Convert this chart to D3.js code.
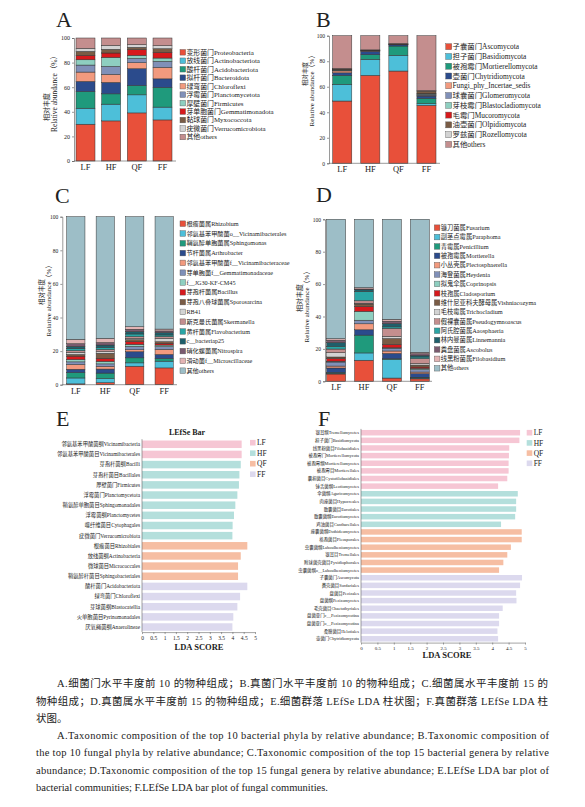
<!DOCTYPE html>
<html>
<head>
<meta charset="UTF-8">
<title>Microbial community composition</title>
<script src="https://d3js.org/d3.v7.min.js"></script>
<style>
  body { margin: 0; background: #fff; }
  text { font-family: "Liberation Serif", "Noto Sans CJK SC", serif; fill: #222; }
</style>
</head>
<body>
<svg width="585" height="807"></svg>
<script>
const groups = ["LF", "HF", "QF", "FF"];
const pctTicks = [0, 20, 40, 60, 80, 100];
const ldaTicks = [0, 0.5, 1, 1.5, 2, 2.5, 3, 3.5, 4, 4.5, 5];

// A. bacterial phyla (%), one row per group LF, HF, QF, FF
const bacPhyla = ["变形菌门Proteobacteria", "放线菌门Actinobacteriota", "酸杆菌门Acidobacteriota",
  "拟杆菌门Bacteroidota", "绿弯菌门Chloroflexi", "浮霉菌门Planctomycetota", "厚壁菌门Firmicutes",
  "芽单胞菌门Gemmatimonadota", "黏球菌门Myxococcota", "疣微菌门Verrucomicrobiota", "其他others"];
const bacPhylaValues = [
  [29.9, 13.0, 13.6, 8.2, 7.6, 5.7, 4.3, 3.6, 3.2, 2.5, 8.4],
  [32.6, 13.6, 8.4, 9.3, 6.5, 6.5, 7.3, 3.6, 3.0, 3.2, 6.0],
  [39.1, 14.7, 7.6, 13.6, 4.9, 3.5, 2.5, 4.6, 1.9, 2.2, 5.4],
  [33.4, 10.4, 16.0, 7.0, 9.3, 4.9, 2.7, 4.6, 3.0, 2.5, 6.2]
];

// B. fungal phyla (%)
const funPhyla = ["子囊菌门Ascomycota", "担子菌门Basidiomycota", "被孢霉门Mortierellomycota",
  "壶菌门Chytridiomycota", "Fungi_phy_Incertae_sedis", "球囊菌门Glomeromycota", "芽枝霉门Blastocladiomycota",
  "毛霉门Mucoromycota", "油壶菌门Olpidiomycota", "罗兹菌门Rozellomycota", "其他others"];
const funPhylaValues = [
  [48.8, 13.1, 7.0, 2.0, 1.5, 0.5, 0.3, 0.2, 0.5, 0.3, 25.8],
  [68.9, 12.6, 3.6, 2.7, 0.3, 0.2, 0.1, 0.1, 0.3, 0.1, 11.1],
  [72.3, 12.3, 7.3, 1.0, 0.2, 0.1, 0.1, 0.1, 0.3, 0.1, 6.2],
  [45.4, 1.3, 4.2, 1.8, 0.5, 0.8, 0.4, 0.2, 2.0, 0.3, 43.1]
];

// C. bacterial genera (%)
const bacGenera = ["根瘤菌属Rhizobium", "邻氨基苯甲酸菌o__Vicinamibacterales", "鞘氨醇单胞菌属Sphingomonas",
  "节杆菌属Arthrobacter", "邻氨基苯甲酸菌f__Vicinamibacteraceae", "芽单胞菌f__Gemmatimonadaceae",
  "f__JG30-KF-CM45", "芽孢杆菌属Bacillus", "芽孢八叠球菌属Sporosarcina", "RB41", "斯克曼氏菌属Skermanella",
  "黄杆菌属Flavobacterium", "c__bacteriap25", "硝化螺菌属Nitrospira", "滑动菌f__Microscillaceae", "其他others"];
const bacGeneraValues = [
  [0.5, 3.5, 3.2, 2.0, 2.8, 1.6, 1.4, 2.0, 1.0, 1.2, 1.0, 1.2, 1.4, 1.6, 2.6, 73.0],
  [1.2, 2.5, 3.2, 2.4, 1.6, 1.5, 1.5, 1.8, 3.0, 1.0, 1.2, 1.2, 1.5, 1.5, 2.5, 72.4],
  [11.0, 2.0, 3.0, 3.6, 1.2, 2.0, 1.2, 1.6, 1.2, 0.8, 1.0, 1.6, 1.4, 1.4, 1.5, 65.5],
  [10.0, 4.0, 1.6, 2.4, 3.0, 1.6, 1.0, 1.0, 1.0, 2.0, 1.0, 1.0, 1.4, 1.0, 1.1, 66.9]
];

// D. fungal genera (%)
const funGenera = ["镰刀菌属Fusarium", "副茎点霉属Paraphoma", "青霉属Penicillium", "被孢霉属Mortierella",
  "小丛壳属Plectosphaerella", "海登菌属Heydenia", "拟鬼伞属Coprinopsis", "枝孢属Cladosporium",
  "维什尼亚科夫酵母属Vishniacozyma", "毛枝霉属Trichocladium", "假裸囊菌属Pseudogymnoascus",
  "阿氏腔菌属Aaosphaeria", "林内曼菌属Linnemannia", "粪盘菌属Ascobolus", "线黑粉菌属Filobasidium", "其他others"];
const funGeneraValues = [
  [4.5, 0.5, 0.5, 2.7, 1.2, 2.5, 0.5, 1.6, 1.0, 2.7, 2.2, 1.6, 2.4, 1.5, 0.9, 73.7],
  [13.0, 4.5, 11.0, 3.3, 3.7, 2.2, 5.5, 3.0, 1.5, 0.5, 1.5, 5.8, 1.0, 0.5, 0.8, 42.2],
  [2.0, 11.5, 0.4, 3.3, 1.5, 1.7, 0.3, 2.0, 3.7, 1.4, 4.8, 1.0, 2.0, 1.5, 1.2, 61.7],
  [1.5, 0.5, 0.5, 2.2, 1.0, 1.5, 0.8, 0.8, 1.2, 1.0, 3.0, 1.0, 1.0, 1.0, 0.9, 82.1]
];

// E. LEfSe, bacteria
const bacLdaTaxa = ["邻氨基苯甲酸菌纲Vicinamibacteria", "邻氨基苯甲酸菌目Vicinamibacterales", "芽孢杆菌纲Bacilli",
  "芽孢杆菌目Bacillales", "厚壁菌门Firmicutes", "浮霉菌门Planctomycetota", "鞘氨醇单胞菌目Sphingomonadales",
  "浮霉菌纲Planctomycetes", "噬纤维菌目Cytophagales", "疣微菌门Verrucomicrobiota", "根瘤菌目Rhizobiales",
  "放线菌纲Actinobacteria", "微球菌目Micrococcales", "鞘氨醇杆菌目Sphingobacteriales", "酸杆菌门Acidobacteriota",
  "绿弯菌门Chloroflexi", "芽球菌纲Blastocatellia", "火单胞菌目Pyrinomonadales", "厌氧绳菌纲Anaerolineae"];
const bacLdaGroup = ["LF", "LF", "HF", "HF", "HF", "HF", "HF", "HF", "HF", "HF",
  "QF", "QF", "QF", "QF", "FF", "FF", "FF", "FF", "FF"];
const bacLdaScore = [4.41, 4.41, 4.37, 4.31, 4.29, 4.22, 4.13, 4.07, 4.01, 4.00,
  4.66, 4.37, 4.25, 4.25, 4.66, 4.34, 4.22, 4.04, 4.00];

// F. LEfSe, fungi
const funLdaTaxa = ["银耳纲Tremellomycetes", "担子菌门Basidiomycota", "线黑粉菌目Filobasidiales",
  "被孢霉门Mortierellomycota", "被孢霉纲Mortierellomycetes", "被孢霉目Mortierellales", "囊担菌目Cystofilobasidiales",
  "锤舌菌纲Leotiomycetes", "伞菌纲Agaricomycetes", "肉座菌目Hypocreales", "散囊菌目Eurotiales",
  "散囊菌纲Eurotiomycetes", "鸡油菌目Cantharellales", "座囊菌纲Dothideomycetes", "格孢菌目Pleosporales",
  "虫囊菌纲Laboulbeniomycetes", "银耳目Tremellales", "附球菌壳菌目Pyxidiophorales", "虫囊菌纲o__Laboulbeniomycetes",
  "子囊菌门Ascomycota", "粪壳菌目Sordariales", "盘菌目Pezizales", "盘菌纲Pezizomycetes", "毛壳菌目Chaetothyriales",
  "盘菌亚门c__Pezizomycotina", "盘菌亚门o__Pezizomycotina", "柔膜菌目Helotiales", "壶菌门Chytridiomycota"];
const funLdaGroup = ["LF", "LF", "LF", "LF", "LF", "LF", "LF", "LF", "HF", "HF", "HF", "HF", "HF",
  "QF", "QF", "QF", "QF", "QF", "QF", "FF", "FF", "FF", "FF", "FF", "FF", "FF", "FF", "FF"];
const funLdaScore = [4.85, 4.83, 4.52, 4.51, 4.50, 4.50, 4.46, 4.18, 4.78, 4.73, 4.73, 4.70, 4.27,
  4.90, 4.90, 4.57, 4.46, 4.34, 4.21, 4.91, 4.85, 4.73, 4.74, 4.32, 4.21, 4.21, 4.16, 4.18];

const captionZh = [
  "A.细菌门水平丰度前 10 的物种组成；B.真菌门水平丰度前 10 的物种组成；C.细菌属水平丰度前 15 的",
  "物种组成；D.真菌属水平丰度前 15 的物种组成；E.细菌群落 LEfSe LDA 柱状图；F.真菌群落 LEfSe LDA 柱",
  "状图。"
];
const captionEn = [
  "A.Taxonomic composition of the top 10 bacterial phyla by relative abundance; B.Taxonomic composition of",
  "the top 10 fungal phyla by relative abundance; C.Taxonomic composition of the top 15 bacterial genera by relative",
  "abundance; D.Taxonomic composition of the top 15 fungal genera by relative abundance; E.LEfSe LDA bar plot of",
  "bacterial communities; F.LEfSe LDA bar plot of fungal communities."
];

const palette = ["#e8503a", "#4dbfd9", "#1f9a7c", "#2b4b8c", "#f29a7e", "#8090b8", "#8ecfc0",
  "#d7191c", "#7a5c45", "#d3d3d3", "#c48e8e", "#2aa5a5", "#1f5f6b", "#7a5a6e", "#e3b4b4"];
const phylaColors = palette.slice(0, 10).concat(["#c48e8e"]);
const generaColors = palette.concat(["#9dbec7"]);
const ldaColor = { LF: "#f6c6d4", HF: "#b4dfdc", QF: "#f6bea3", FF: "#dcd9ee" };

const svg = d3.select("svg");

function panelLetter(t, x, y) {
  svg.append("text").attr("x", x).attr("y", y).attr("font-size", 22).text(t);
}

function stackPanel(o) {
  const g = svg.append("g");
  const x = d3.scaleBand().domain(groups).range(o.xr).paddingInner(o.pad);
  const y = d3.scaleLinear().domain([0, 100]).range(o.yr);
  const rows = groups.map((grp, i) => {
    const r = { group: grp };
    o.names.forEach((n, j) => r[n] = o.values[i][j]);
    return r;
  });
  const series = d3.stack().keys(o.names)(rows);

  g.selectAll("g.layer").data(series).join("g")
    .attr("class", "layer")
    .attr("fill", (d, i) => o.colors[i])
    .selectAll("rect").data(d => d).join("rect")
    .attr("x", d => x(d.data.group))
    .attr("width", x.bandwidth())
    .attr("y", d => y(d[1]))
    .attr("height", d => y(d[0]) - y(d[1]))
    .attr("stroke", "#333")
    .attr("stroke-width", 0.5);

  const ya = g.append("g").attr("transform", `translate(${o.ax},0)`)
    .call(d3.axisLeft(y).tickValues(pctTicks).tickSize(2).tickPadding(2));
  ya.selectAll("text").attr("font-size", o.tickFs);
  ya.selectAll("path, line").attr("stroke", "#555").attr("stroke-width", 0.6);

  const xa = g.append("g").attr("transform", `translate(0,${o.yr[0]})`)
    .call(d3.axisBottom(x).tickSize(0).tickPadding(3));
  xa.select(".domain").attr("d", `M${o.ax},0H${o.xEnd}`).attr("stroke", "#555").attr("stroke-width", 0.6);
  xa.selectAll("text").attr("font-size", 8.5);

  // axis titles
  g.append("text").attr("transform", `translate(${o.zhX},${o.zhY}) rotate(-90)`)
    .attr("text-anchor", "middle").attr("font-size", o.zhFs).text("相对丰度");
  g.append("text").attr("transform", `translate(${o.enX},${o.enY}) rotate(-90)`)
    .attr("text-anchor", "middle").attr("font-size", o.enFs).text("Relative abundance（%）");

  // legend
  const lg = g.append("g").selectAll("g").data(o.names).join("g")
    .attr("transform", (d, i) => `translate(${o.lx},${o.ly + i * o.lstep})`);
  lg.append("rect").attr("x", 0).attr("y", -o.sq / 2).attr("width", o.sq).attr("height", o.sq)
    .attr("fill", (d, i) => o.colors[i]).attr("stroke", "#555").attr("stroke-width", 0.4);
  lg.append("text").attr("x", o.sq + 0.8).attr("dy", "0.35em").attr("font-size", o.lfs).text(d => d);
}

function ldaPanel(o) {
  const g = svg.append("g");
  const y = d3.scaleBand().domain(o.names).range(o.yr).paddingInner(o.pad).paddingOuter(o.pad / 2);
  const x = d3.scaleLinear().domain([0, 5]).range(o.xr);

  g.selectAll("rect.bar").data(o.names).join("rect")
    .attr("class", "bar")
    .attr("x", x(0))
    .attr("y", d => y(d))
    .attr("height", y.bandwidth())
    .attr("width", (d, i) => x(o.scores[i]) - x(0))
    .attr("fill", (d, i) => ldaColor[o.grp[i]]);

  g.selectAll("text.lab").data(o.names).join("text")
    .attr("class", "lab")
    .attr("x", x(0) - 2)
    .attr("y", d => y(d) + y.bandwidth() / 2)
    .attr("dy", "0.35em")
    .attr("text-anchor", "end")
    .attr("font-size", o.fs)
    .text(d => d);

  g.append("line").attr("x1", x(0)).attr("x2", x(0)).attr("y1", o.yr[0]).attr("y2", o.yr[1])
    .attr("stroke", "#666").attr("stroke-width", 0.6);

  const xa = g.append("g").attr("transform", `translate(0,${o.yr[1]})`)
    .call(d3.axisBottom(x).tickValues(ldaTicks).tickFormat(d => d).tickSize(2).tickSizeOuter(0).tickPadding(2));
  xa.selectAll("text").attr("font-size", o.tickFs);
  xa.selectAll("path, line").attr("stroke", "#666").attr("stroke-width", 0.6);

  g.append("text").attr("x", o.scoreX).attr("y", o.scoreY).attr("text-anchor", "middle")
    .attr("font-size", 8.5).attr("font-weight", "bold").text("LDA SCORE");

  const lg = g.append("g").selectAll("g").data(groups).join("g")
    .attr("transform", (d, i) => `translate(${o.lx},${o.ly + i * o.lstep})`);
  lg.append("rect").attr("y", -2.8).attr("width", 5.6).attr("height", 5.6).attr("fill", d => ldaColor[d]);
  lg.append("text").attr("x", 7).attr("dy", "0.35em").attr("font-size", 7.5).text(d => d);
}

// A
panelLetter("A", 56, 27);
stackPanel({ names: bacPhyla, values: bacPhylaValues, colors: phylaColors,
  xr: [76, 172], pad: 0.26, yr: [161, 38], ax: 74, xEnd: 176, tickFs: 6,
  zhX: 49, zhY: 107, zhFs: 7, enX: 57, enY: 92, enFs: 7.5,
  lx: 180, ly: 52.3, lstep: 8.47, sq: 5.6, lfs: 6.9 });

// B
panelLetter("B", 316, 27);
stackPanel({ names: funPhyla, values: funPhylaValues, colors: phylaColors,
  xr: [332.7, 436], pad: 0.32, yr: [163.3, 35.7], ax: 329, xEnd: 440, tickFs: 5.5,
  zhX: 307, zhY: 74, zhFs: 6, enX: 314, enY: 89, enFs: 7,
  lx: 445.7, ly: 46.7, lstep: 9.77, sq: 6, lfs: 7.4 });

// C
panelLetter("C", 55, 203);
stackPanel({ names: bacGenera, values: bacGeneraValues, colors: generaColors,
  xr: [66.7, 173.3], pad: 0.38, yr: [384.7, 216.7], ax: 62.3, xEnd: 177, tickFs: 5.5,
  zhX: 44, zhY: 292, zhFs: 6.5, enX: 51, enY: 299, enFs: 7,
  lx: 180, ly: 223.7, lstep: 9.8, sq: 5.6, lfs: 6.2 });

// D
panelLetter("D", 316, 202);
stackPanel({ names: funGenera, values: funGeneraValues, colors: generaColors,
  xr: [326.7, 429.3], pad: 0.32, yr: [381.3, 219.3], ax: 325, xEnd: 432, tickFs: 5.5,
  zhX: 302, zhY: 298, zhFs: 7, enX: 309, enY: 305, enFs: 7,
  lx: 434.3, ly: 227.7, lstep: 9.37, sq: 5.6, lfs: 6.3 });

// E
panelLetter("E", 56, 426);
svg.append("text").attr("x", 187).attr("y", 435).attr("text-anchor", "middle")
  .attr("font-size", 8).attr("font-weight", "bold").text("LEfSe Bar");
ldaPanel({ names: bacLdaTaxa, scores: bacLdaScore, grp: bacLdaGroup,
  yr: [439.2, 632.1], xr: [142, 255], pad: 0.26, fs: 5.3, tickFs: 5.5,
  scoreX: 199, scoreY: 650, lx: 250, ly: 442.7, lstep: 10.5 });

// F
panelLetter("F", 318, 426);
ldaPanel({ names: funLdaTaxa, scores: funLdaScore, grp: funLdaGroup,
  yr: [428.9, 642.6], xr: [361, 525], pad: 0.28, fs: 4.4, tickFs: 5,
  scoreX: 447, scoreY: 658, lx: 526.7, ly: 432.7, lstep: 10.2 });

// caption
const cap = svg.append("g").attr("font-size", 10.5);
const zhLines = [
  { t: captionZh[0], x: 57, y: 687, w: 491 },
  { t: captionZh[1], x: 36, y: 705, w: 512 },
  { t: captionZh[2], x: 36, y: 722 }
];
const enLines = [
  { t: captionEn[0], x: 57, y: 739, w: 492 },
  { t: captionEn[1], x: 36, y: 756, w: 513 },
  { t: captionEn[2], x: 36, y: 774, w: 513 },
  { t: captionEn[3], x: 36, y: 791 }
];
zhLines.concat(enLines).forEach(l => {
  const t = cap.append("text").attr("x", l.x).attr("y", l.y).attr("font-size", 10.5).text(l.t);
  if (l.w) t.attr("textLength", l.w).attr("lengthAdjust", "spacing");
});
</script>
</body>
</html>
